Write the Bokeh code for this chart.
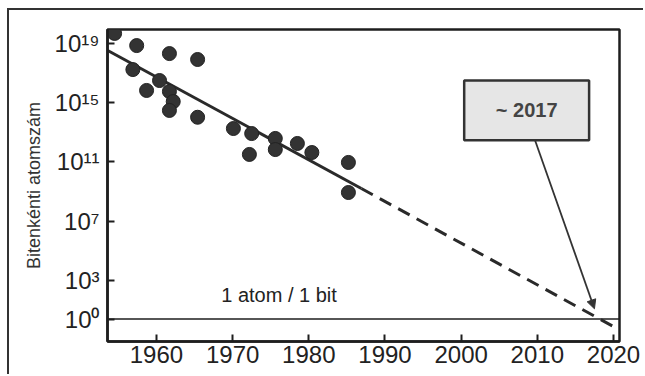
from bokeh.plotting import figure
from bokeh.models import Range1d, FixedTicker, Arrow, NormalHead, Label
from bokeh.embed import file_html
from bokeh.resources import INLINE

# --- data (x: year, y: log10 of atoms per bit) ---
years = [1954.5, 1957.4, 1961.7, 1965.4, 1956.9, 1960.4, 1958.7, 1961.7, 1962.2, 1961.7,
         1965.4, 1970.1, 1972.5, 1972.2, 1975.6, 1975.6, 1978.5, 1980.4, 1985.2, 1985.2]
log_atoms = [19.68, 18.86, 18.32, 17.92, 17.24, 16.50, 15.83, 15.76, 15.08, 14.48,
             14.02, 13.26, 12.92, 11.51, 12.59, 11.84, 12.25, 11.64, 10.97, 8.94]

trend_solid_years = [1953.6, 1986.9]
trend_solid_vals = [18.53, 9.21]
trend_dash_years = [1986.9, 2020.0]
trend_dash_vals = [9.21, -0.11]

one_atom_level = 0.4          # where the "1 atom / 1 bit" line sits on the drawn scale
x_ticks = [1960, 1970, 1980, 1990, 2000, 2010, 2020]
y_ticks = [19, 15, 11, 7, 3, 0.4]
y_tick_labels = ["10\u00b9\u2079", "10\u00b9\u2075", "10\u00b9\u00b9", "10\u2077", "10\u00b3", "10\u2070"]

note_box_x = [2000.4, 2016.8]
note_box_y = [12.47, 16.5]
note_text = "~ 2017"
arrow_start = (2009.7, 12.47)
arrow_end = (2017.5, 1.09)
atom_text = "1 atom / 1 bit"
atom_text_pos = (1968.5, 2.0)

FONT = "Liberation Sans"
DARK = "#1e1e1e"

p = figure(width=636, height=366,
           x_range=Range1d(1953.57, 2020.79), y_range=Range1d(-1.118, 19.945),
           output_backend="svg", toolbar_location=None,
           min_border_left=98, min_border_top=19, min_border_right=26, min_border_bottom=35)
p.styles = {"border-left": "2px solid #333333", "border-top": "2px solid #333333",
            "margin-left": "7px", "margin-top": "8px"}
p.background_fill_color = "white"
p.border_fill_color = "white"
p.outline_line_color = DARK
p.outline_line_width = 2.5
p.xgrid.visible = False
p.ygrid.visible = False

for ax in (p.xaxis[0], p.yaxis[0]):
    ax.axis_line_color = DARK
    ax.axis_line_width = 2.5
    ax.major_tick_in = 7
    ax.major_tick_out = 0
    ax.major_tick_line_width = 2
    ax.major_tick_line_color = DARK
    ax.minor_tick_line_color = None
    ax.major_label_text_font = FONT
    ax.major_label_text_font_size = "24px"
    ax.major_label_text_color = "#222222"

p.xaxis.ticker = FixedTicker(ticks=x_ticks)
p.xaxis.major_label_standoff = 4
p.yaxis.ticker = FixedTicker(ticks=y_ticks)
p.yaxis.major_label_overrides = {t: s for t, s in zip(y_ticks, y_tick_labels)}
p.yaxis.major_label_standoff = 8
p.yaxis.axis_label = "Bitenkénti atomszám"
p.yaxis.axis_label_text_font = FONT
p.yaxis.axis_label_text_font_size = "18px"
p.yaxis.axis_label_text_font_style = "normal"
p.yaxis.axis_label_text_color = "#333333"
p.yaxis.axis_label_standoff = 8

# 1 atom / 1 bit line
p.line([1953.57, 2020.79], [one_atom_level, one_atom_level], line_color=DARK, line_width=1.5)

# trend lines
p.line(trend_solid_years, trend_solid_vals, line_color="#2a2a2a", line_width=3)
p.line(trend_dash_years, trend_dash_vals, line_color="#2a2a2a", line_width=3, line_dash="13 8")

# data points
p.scatter(years, log_atoms, size=14, fill_color="#333333", line_color="#222222", line_width=1)

# annotation box
p.quad(left=[note_box_x[0]], right=[note_box_x[1]], bottom=[note_box_y[0]], top=[note_box_y[1]],
       fill_color="#e6e6e6", line_color="#333333", line_width=2.5)
p.add_layout(Label(x=(note_box_x[0] + note_box_x[1]) / 2, y=(note_box_y[0] + note_box_y[1]) / 2,
                   text=note_text, text_align="center", text_baseline="middle",
                   text_font=FONT, text_font_size="20px", text_font_style="bold",
                   text_color="#444444"))
p.add_layout(Arrow(end=NormalHead(size=9, fill_color="#333333", line_color="#333333", line_width=1),
                   x_start=arrow_start[0], y_start=arrow_start[1],
                   x_end=arrow_end[0], y_end=arrow_end[1],
                   line_color="#333333", line_width=1.8))

p.add_layout(Label(x=atom_text_pos[0], y=atom_text_pos[1], text=atom_text,
                   text_align="left", text_baseline="middle",
                   text_font=FONT, text_font_size="20px", text_color="#222222"))

open("out.html", "w").write(file_html(p, INLINE))
